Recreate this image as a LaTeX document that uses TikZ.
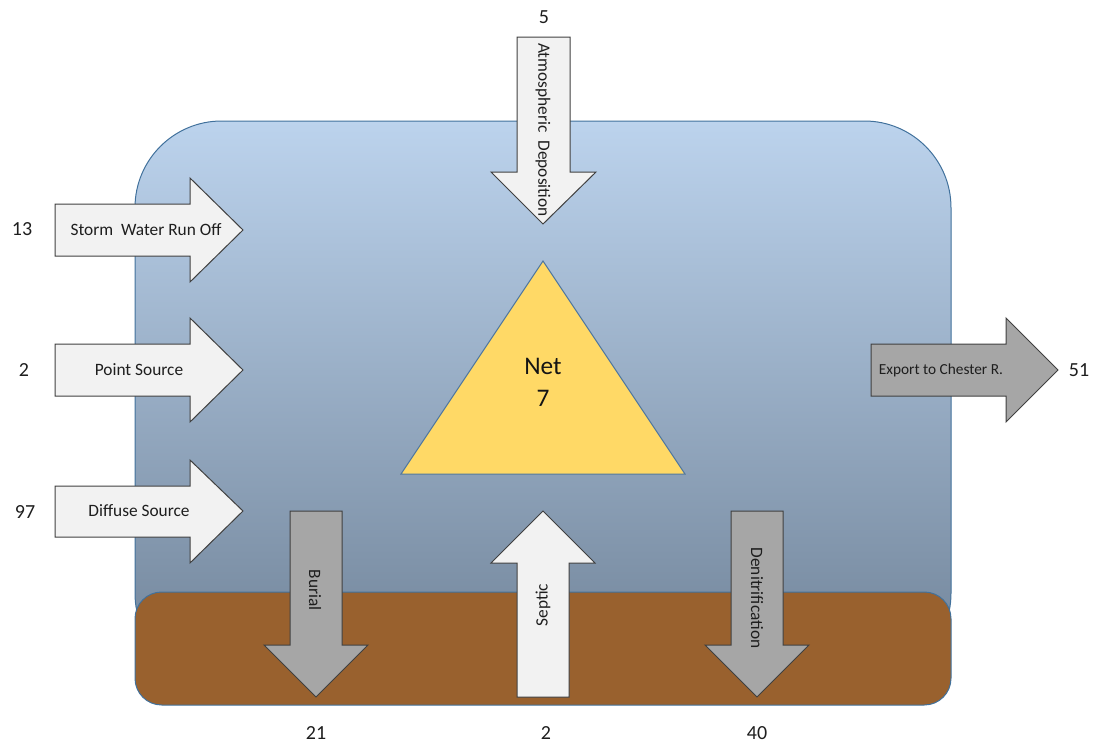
\documentclass[tikz,border=0pt]{standalone}
\usepackage{fontspec}
\setmainfont{Carlito}

\tikzset{every picture/.style={line width=0.75pt}}
\tikzset{
  inarrow/.style={draw={rgb, 255:red, 64; green, 64; blue, 64 }, fill={rgb, 255:red, 242; green, 242; blue, 242 }, line join=miter},
  outarrow/.style={draw={rgb, 255:red, 64; green, 64; blue, 64 }, fill={rgb, 255:red, 166; green, 166; blue, 166 }, line join=miter},
  lbl/.style={inner sep=0.75pt, text={rgb, 255:red, 30; green, 30; blue, 30 }, font=\fontsize{13}{15}\selectfont},
  num/.style={inner sep=0.75pt, text={rgb, 255:red, 30; green, 30; blue, 30 }, font=\fontsize{15}{18}\selectfont}
}

\begin{document}
\begin{tikzpicture}[x=0.75pt,y=0.75pt,yscale=-1,xscale=1]
\useasboundingbox (0,0) rectangle (1104,743);

% Water
\draw [draw={rgb, 255:red, 65; green, 113; blue, 156 }, top color={rgb, 255:red, 188; green, 211; blue, 237 }, bottom color={rgb, 255:red, 112; green, 131; blue, 152 }, rounded corners=65] (135,680) -- (135,121) -- (951,121) -- (951,680) -- cycle ;
% Sediment
\draw [draw={rgb, 255:red, 65; green, 113; blue, 156 }, fill={rgb, 255:red, 153; green, 97; blue, 46 }, rounded corners=20] (135,592) rectangle (951,705) ;

% Triangle
\draw [draw={rgb, 255:red, 80; green, 120; blue, 160 }, fill={rgb, 255:red, 255; green, 217; blue, 102 }] (543,261) -- (685,474) -- (401,474) -- cycle ;
\draw (543,382) node (net) [inner sep=0.75pt, align=center, text={rgb, 255:red, 20; green, 20; blue, 20 }, font=\fontsize{19}{24}\selectfont] {Net\\7};

% Down Arrow
\draw [inarrow] (517,37) -- (570,37) -- (570,172) -- (596,172) -- (543,224) -- (491,172) -- (517,172) -- cycle ;
% Right Arrow
\draw [inarrow] (55,204) -- (190,204) -- (190,178) -- (243,230) -- (190,282) -- (190,256) -- (55,256) -- cycle ;
% Right Arrow
\draw [inarrow] (55,344) -- (190,344) -- (190,318) -- (243,370) -- (190,422) -- (190,396) -- (55,396) -- cycle ;
% Right Arrow
\draw [inarrow] (55,486) -- (190,486) -- (190,460) -- (243,511) -- (190,563) -- (190,537) -- (55,537) -- cycle ;
% Up Arrow
\draw [inarrow] (517,697) -- (569,697) -- (569,563) -- (595,563) -- (543,511) -- (491,563) -- (517,563) -- cycle ;
% Right Arrow
\draw [outarrow] (871,344) -- (1006,344) -- (1006,318) -- (1058,370) -- (1006,422) -- (1006,396) -- (871,396) -- cycle ;
% Down Arrow
\draw [outarrow] (290,511) -- (342,511) -- (342,645) -- (368,645) -- (316,697) -- (264,645) -- (290,645) -- cycle ;
% Down Arrow
\draw [outarrow] (731,511) -- (783,511) -- (783,645) -- (809,645) -- (757,697) -- (705,645) -- (731,645) -- cycle ;

% Text Node
\draw (543,130) node (atmos) [lbl, rotate=-90] {Atmospheric\ \ Deposition};
\draw (146,230) node (storm) [lbl] {Storm\ \ Water Run Off};
\draw (139,370) node (point) [lbl] {Point Source};
\draw (139,511) node (diffuse) [lbl] {Diffuse Source};
\draw (941,370) node (export) [lbl, font=\fontsize{11.5}{14}\selectfont] {Export to Chester R.};
\draw (315,590) node (burial) [lbl, rotate=-90] {Burial};
\draw (543,605) node (septic) [lbl, rotate=90] {Septic};
\draw (757,598) node (denit) [lbl, rotate=-90] {Denitrification};

% Text Node
\draw (544,17) node (atmosval) [num] {5};
\draw (22,229) node (stormval) [num] {13};
\draw (24,370) node (pointval) [num] {2};
\draw (25,512) node (diffuseval) [num] {97};
\draw (1079,370) node (exportval) [num] {51};
\draw (316,733) node (burialval) [num] {21};
\draw (546,733) node (septicval) [num] {2};
\draw (757,733) node (denitval) [num] {40};
\end{tikzpicture}
\end{document}
